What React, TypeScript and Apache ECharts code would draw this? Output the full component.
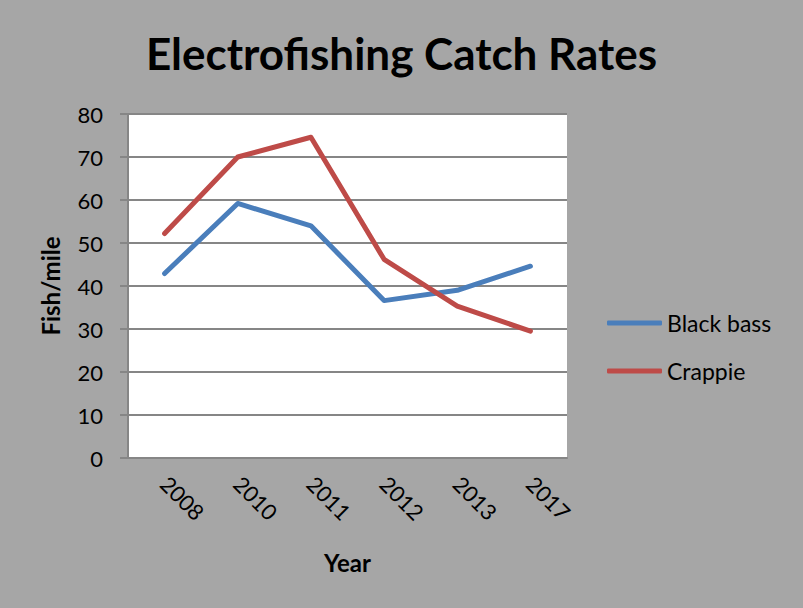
import React, { useEffect, useRef } from "react";
import * as echarts from "echarts";

const years = ["2008", "2010", "2011", "2012", "2013", "2017"];
const blackBass = [42.9, 59.2, 54.0, 36.6, 39.0, 44.6];
const crappie = [52.2, 70.0, 74.6, 46.2, 35.3, 29.5];
const seriesNames = ["Black bass", "Crappie"];
const titleText = "Electrofishing Catch Rates";
const yName = "Fish/mile";
const xName = "Year";

export default function App() {
  const ref = useRef<HTMLDivElement>(null);
  useEffect(() => {
    if (!ref.current) return;
    const chart = echarts.init(ref.current, null, { renderer: "svg" });
    const font = "Lato, 'Noto Sans', sans-serif";
    chart.setOption({
      animation: false,
      backgroundColor: "#a6a6a6",
      title: {
        text: titleText,
        left: "center",
        top: 26,
        textStyle: { fontFamily: font, fontWeight: "bold", fontSize: 44, color: "#000" },
      },
      legend: {
        orient: "vertical",
        left: 602,
        top: 306,
        itemWidth: 55,
        itemHeight: 5,
        itemGap: 24,
        icon: "roundRect",
        textStyle: { fontFamily: font, fontSize: 23, color: "#000", lineHeight: 24 },
        data: seriesNames,
      },
      grid: { left: 128, right: 236, top: 114, bottom: 150, containLabel: false, show: true, backgroundColor: "#ffffff", borderWidth: 0 },
      xAxis: {
        type: "category",
        data: years,
        boundaryGap: true,
        name: xName,
        nameLocation: "middle",
        nameGap: 92,
        nameTextStyle: { fontFamily: font, fontWeight: "bold", fontSize: 24, color: "#000" },
        axisLine: { lineStyle: { color: "#868686", width: 2 } },
        axisTick: { show: false },
        axisLabel: { rotate: -45, margin: 22, fontFamily: font, fontSize: 22, color: "#000", interval: 0 },
        splitLine: { show: false },
      },
      yAxis: {
        type: "value",
        min: 0,
        max: 80,
        interval: 10,
        name: yName,
        nameLocation: "middle",
        nameGap: 66,
        nameRotate: 90,
        nameTextStyle: { fontFamily: font, fontWeight: "bold", fontSize: 24, color: "#000" },
        axisLine: { show: true, lineStyle: { color: "#868686", width: 2 } },
        axisTick: { show: true, length: 8, lineStyle: { color: "#868686", width: 2 } },
        axisLabel: { margin: 25, fontFamily: font, fontSize: 22, color: "#000" },
        splitLine: { show: true, lineStyle: { color: "#868686", width: 2 } },
      },
      series: [
        {
          name: seriesNames[0],
          type: "line",
          data: blackBass,
          symbol: "none",
          color: "#4a7ebb",
          lineStyle: { width: 5, color: "#4a7ebb", cap: "round", join: "round" },
        },
        {
          name: seriesNames[1],
          type: "line",
          data: crappie,
          symbol: "none",
          color: "#be4b48",
          lineStyle: { width: 5, color: "#be4b48", cap: "round", join: "round" },
        },
      ],
    });
    return () => chart.dispose();
  }, []);
  return (
    <div
      ref={ref}
      style={{ position: "fixed", left: 0, top: 0, width: 803, height: 608 }}
    />
  );
}
